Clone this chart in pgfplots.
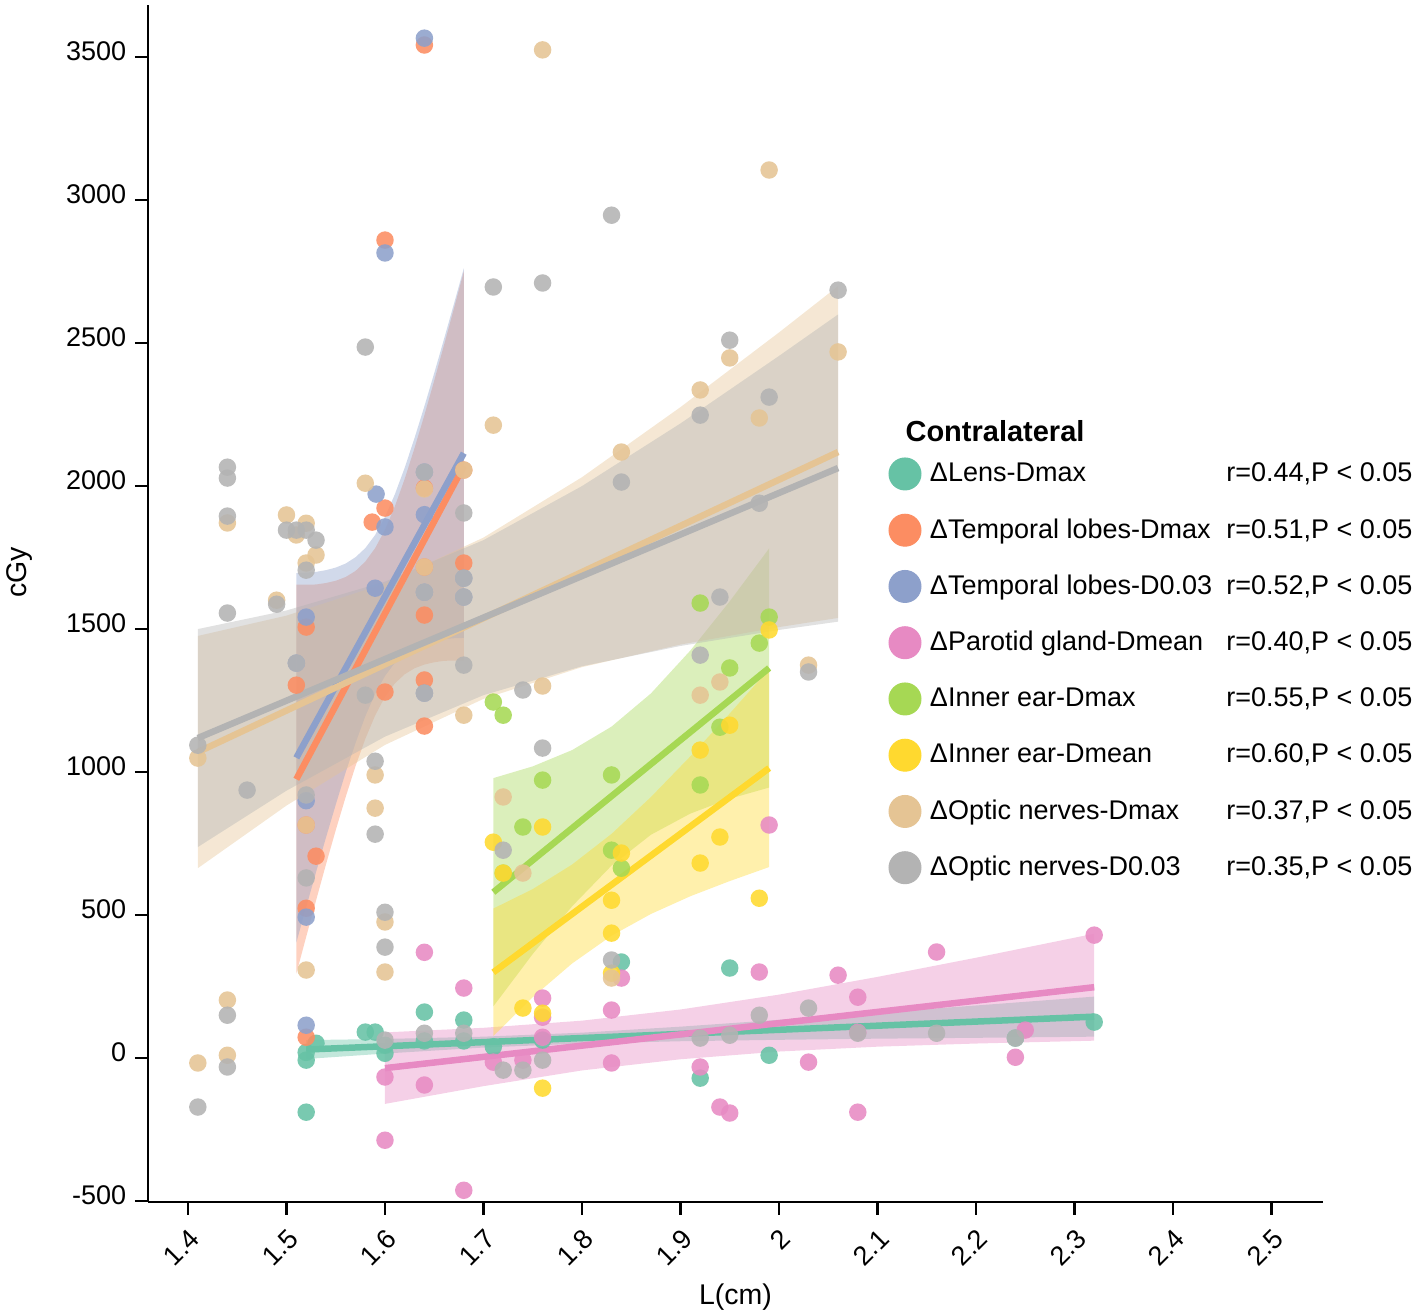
\documentclass[border=0pt]{standalone}
\usepackage{fontspec}
\setmainfont{Liberation Sans}
\usepackage{pgfplots}
\pgfplotsset{compat=1.18}
\definecolor{cLens}{RGB}{102,194,165}
\definecolor{cTmax}{RGB}{252,141,98}
\definecolor{cTd}{RGB}{141,160,203}
\definecolor{cPar}{RGB}{231,138,195}
\definecolor{cIEmax}{RGB}{166,216,84}
\definecolor{cIEmean}{RGB}{255,217,47}
\definecolor{cONmax}{RGB}{229,196,148}
\definecolor{cONd}{RGB}{179,179,179}
\pgfplotsset{
  pts/.style={only marks, mark=*, mark size=3.5pt, forget plot, color=#1,
    mark options={fill=#1, draw opacity=0, fill opacity=0.88}},
  band/.style={fill=#1, fill opacity=0.4, draw=none, forget plot},
  fit/.style={draw=#1, line width=2.6pt, forget plot, mark=none},
}
\begin{document}
\begin{tikzpicture}
\begin{axis}[
  scale only axis, width=470pt, height=478.8pt,
  xmin=1.3594, xmax=2.5523, ymin=-503, ymax=3682,
  axis x line*=bottom, axis y line*=left,
  axis line style={line width=1pt, black},
  xtick={1.4,1.5,1.6,1.7,1.8,1.9,2,2.1,2.2,2.3,2.4,2.5},
  ytick={-500,0,500,1000,1500,2000,2500,3000,3500},
  tick align=outside, major tick length=5.2pt,
  every tick/.style={black, line width=1pt},
  /pgf/number format/assume math mode=true,
  /pgf/number format/1000 sep={},
  ticklabel style={font=\fontsize{10.8}{12}\selectfont},
  xticklabel style={rotate=45, anchor=north east},
  yticklabel style={yshift=2.4pt},
  xlabel={L(cm)}, ylabel={cGy},
  label style={font=\fontsize{11.4}{13}\selectfont},
  xlabel style={at={(axis description cs:0.5,-0.0794)}, anchor=center},
  ylabel style={at={(axis description cs:-0.109,0.526)}, anchor=center},
  clip=false,
  legend style={at={(0.6302,0.622)}, anchor=north west, draw=none, fill=none,
    inner sep=0pt, outer sep=0pt, row sep=9.3pt,
    font=\fontsize{10.8}{13}\selectfont, nodes={inner sep=1pt}},
  legend cell align=left,
]
% ---------- scatter points ----------
\addplot[pts=cLens] coordinates {
(1.52,-7) (1.52,20) (1.53,52) (1.52,-189) (1.58,91) (1.59,91) (1.60,17) (1.60,45)
(1.64,161) (1.64,60) (1.68,133) (1.68,60) (1.71,40) (1.76,63) (1.84,336) (1.92,-70)
(1.95,315) (1.99,10) (2.24,70) (2.32,126)};
\addplot[pts=cTmax] coordinates {
(1.51,1304) (1.52,1507) (1.52,815) (1.52,524) (1.52,73) (1.53,706) (1.587,1874)
(1.60,2860) (1.60,1923) (1.60,1280) (1.64,3542) (1.64,1993) (1.64,1717) (1.64,1549)
(1.64,1322) (1.64,1161) (1.68,2056) (1.68,1731)};
\addplot[pts=cTd] coordinates {
(1.51,1381) (1.52,1542) (1.52,900) (1.52,493) (1.52,115) (1.591,1972) (1.60,2815)
(1.60,1857) (1.59,1643) (1.64,3566) (1.64,2049) (1.64,1900) (1.64,1629) (1.64,1276)
(1.68,1678) (1.68,1612)};
\addplot[pts=cPar] coordinates {
(1.60,-66) (1.60,-287) (1.64,370) (1.64,-94) (1.68,245) (1.68,-462) (1.71,-14)
(1.74,-7) (1.76,210) (1.76,143) (1.76,73) (1.83,168) (1.83,-17) (1.84,280) (1.92,-31)
(1.94,-171) (1.95,-192) (1.98,301) (1.99,815) (2.03,-14) (2.06,290) (2.08,213)
(2.08,-189) (2.08,90) (2.16,371) (2.24,3) (2.25,98) (2.32,430)};
\addplot[pts=cIEmax] coordinates {
(1.71,1245) (1.72,1199) (1.72,647) (1.74,808) (1.76,972) (1.83,990) (1.83,727)
(1.84,664) (1.92,955) (1.92,1591) (1.94,1157) (1.95,1364) (1.98,1451) (1.99,1542)};
\addplot[pts=cIEmean] coordinates {
(1.71,755) (1.72,647) (1.74,175) (1.76,808) (1.76,157) (1.76,-105) (1.83,552)
(1.83,437) (1.83,297) (1.84,717) (1.92,682) (1.92,1077) (1.94,773) (1.95,1164)
(1.98,559) (1.99,1497)};
\addplot[pts=cONmax] coordinates {
(1.41,1049) (1.41,-17) (1.44,1871) (1.44,203) (1.44,10) (1.49,1601) (1.50,1899)
(1.51,1829) (1.52,1870) (1.52,1731) (1.53,1759) (1.52,308) (1.52,815) (1.58,2010)
(1.59,990) (1.59,874) (1.60,476) (1.60,301) (1.64,1717) (1.64,1990) (1.68,2056)
(1.68,1199) (1.71,2213) (1.72,913) (1.74,647) (1.76,3525) (1.76,1301) (1.83,280)
(1.84,2119) (1.92,2336) (1.92,1269) (1.94,1315) (1.95,2448) (1.98,2238) (1.99,3105)
(2.03,1374) (2.06,2469)};
\addplot[pts=cONd] coordinates {
(1.41,1094) (1.41,-171) (1.44,2066) (1.44,2028) (1.44,1895) (1.44,1556) (1.44,150)
(1.44,-31) (1.46,937) (1.49,1587) (1.50,1846) (1.51,1846) (1.52,1846) (1.53,1811)
(1.52,1706) (1.51,1381) (1.52,920) (1.52,630) (1.58,2486) (1.58,1269) (1.59,1038)
(1.59,783) (1.60,510) (1.60,388) (1.60,63) (1.64,2049) (1.64,1629) (1.64,1276)
(1.64,87) (1.68,1906) (1.68,1612) (1.68,1678) (1.68,1374) (1.68,87) (1.71,2696)
(1.72,727) (1.72,-42) (1.74,1287) (1.74,-42) (1.76,2710) (1.76,1084) (1.76,-7)
(1.83,2947) (1.83,343) (1.84,2014) (1.92,2248) (1.92,1409) (1.92,70) (1.94,1612)
(1.95,2510) (1.95,80) (1.98,1940) (1.98,150) (1.99,2311) (2.03,1350) (2.03,175)
(2.06,2685) (2.08,87) (2.16,87) (2.24,70)};
% ---------- confidence bands ----------
\addplot[band=cLens] coordinates {
(1.52,63) (1.60,67) (1.70,75) (1.80,89) (1.90,110) (2.00,134) (2.10,159) (2.20,184) (2.32,215)
(2.32,75) (2.20,71) (2.10,68) (2.00,64) (1.90,59) (1.80,51) (1.70,37) (1.60,16) (1.52,-3)} -- cycle;
\addplot[band=cTmax] coordinates {
(1.51,1655) (1.52,1655) (1.53,1656) (1.54,1661) (1.55,1669) (1.56,1682) (1.57,1703) (1.58,1736) (1.59,1783)
(1.60,1847) (1.61,1929) (1.62,2025) (1.63,2133) (1.64,2248) (1.65,2369) (1.66,2494) (1.67,2621) (1.68,2750)
(1.68,1390) (1.67,1390) (1.66,1389) (1.65,1384) (1.64,1376) (1.63,1363) (1.62,1342) (1.61,1310) (1.60,1263)
(1.59,1198) (1.58,1116) (1.57,1020) (1.56,912) (1.55,797) (1.54,676) (1.53,551) (1.52,424) (1.51,295)} -- cycle;
\addplot[band=cTd] coordinates {
(1.51,1696) (1.52,1697) (1.53,1700) (1.54,1706) (1.55,1715) (1.56,1729) (1.57,1751) (1.58,1783) (1.59,1829)
(1.60,1892) (1.61,1971) (1.62,2064) (1.63,2168) (1.64,2279) (1.65,2395) (1.66,2515) (1.67,2637) (1.68,2761)
(1.68,1469) (1.67,1468) (1.66,1465) (1.65,1459) (1.64,1450) (1.63,1436) (1.62,1415) (1.61,1382) (1.60,1336)
(1.59,1274) (1.58,1195) (1.57,1101) (1.56,998) (1.55,886) (1.54,770) (1.53,650) (1.52,528) (1.51,404)} -- cycle;
\addplot[band=cPar] coordinates {
(1.60,90) (1.70,106) (1.80,131) (1.90,170) (2.00,222) (2.10,284) (2.20,351) (2.32,435)
(2.32,61) (2.20,51) (2.10,40) (2.00,23) (1.90,-4) (1.80,-43) (1.70,-98) (1.60,-160)} -- cycle;
\addplot[band=cIEmax] coordinates {
(1.71,979) (1.75,1020) (1.79,1077) (1.83,1159) (1.87,1275) (1.91,1425) (1.95,1597) (1.99,1782)
(1.99,946) (1.95,907) (1.91,855) (1.87,781) (1.83,673) (1.79,531) (1.75,364) (1.71,181)} -- cycle;
\addplot[band=cIEmean] coordinates {
(1.71,523) (1.75,591) (1.79,677) (1.83,784) (1.87,913) (1.91,1055) (1.95,1205) (1.99,1360)
(1.99,668) (1.95,619) (1.91,566) (1.87,504) (1.83,428) (1.79,331) (1.75,213) (1.71,77)} -- cycle;
\addplot[band=cONmax] coordinates {
(1.41,1476) (1.50,1547) (1.60,1659) (1.70,1820) (1.80,2031) (1.90,2276) (2.00,2537) (2.06,2699)
(2.06,1539) (2.00,1507) (1.90,1446) (1.80,1367) (1.70,1256) (1.60,1095) (1.50,883) (1.41,664)} -- cycle;
\addplot[band=cONd] coordinates {
(1.41,1500) (1.50,1565) (1.60,1666) (1.70,1811) (1.80,2000) (1.90,2219) (2.00,2455) (2.06,2600)
(2.06,1526) (2.00,1497) (1.90,1441) (1.80,1370) (1.70,1269) (1.60,1124) (1.50,935) (1.41,738)} -- cycle;
% ---------- regression lines ----------
\addplot[fit=cLens] coordinates {(1.52,30) (2.32,145)};
\addplot[fit=cTmax] coordinates {(1.51,975) (1.68,2070)};
\addplot[fit=cTd] coordinates {(1.51,1050) (1.68,2115)};
\addplot[fit=cPar] coordinates {(1.60,-35) (2.32,248)};
\addplot[fit=cIEmax] coordinates {(1.71,580) (1.99,1364)};
\addplot[fit=cIEmean] coordinates {(1.71,300) (1.99,1014)};
\addplot[fit=cONmax] coordinates {(1.41,1070) (2.06,2119)};
\addplot[fit=cONd] coordinates {(1.41,1119) (2.06,2063)};
% ---------- legend ----------
\addlegendimage{legend image code/.code={\fill[cLens] (0pt,0pt) circle (6.4pt);}}
\addlegendentry{\makebox[195.4pt]{\hspace{2.4pt}ΔLens-Dmax\hfill r=0.44,P < 0.05}}
\addlegendimage{legend image code/.code={\fill[cTmax] (0pt,0pt) circle (6.4pt);}}
\addlegendentry{\makebox[195.4pt]{\hspace{2.4pt}ΔTemporal lobes-Dmax\hfill r=0.51,P < 0.05}}
\addlegendimage{legend image code/.code={\fill[cTd] (0pt,0pt) circle (6.4pt);}}
\addlegendentry{\makebox[195.4pt]{\hspace{2.4pt}ΔTemporal lobes-D0.03\hfill r=0.52,P < 0.05}}
\addlegendimage{legend image code/.code={\fill[cPar] (0pt,0pt) circle (6.4pt);}}
\addlegendentry{\makebox[195.4pt]{\hspace{2.4pt}ΔParotid gland-Dmean\hfill r=0.40,P < 0.05}}
\addlegendimage{legend image code/.code={\fill[cIEmax] (0pt,0pt) circle (6.4pt);}}
\addlegendentry{\makebox[195.4pt]{\hspace{2.4pt}ΔInner ear-Dmax\hfill r=0.55,P < 0.05}}
\addlegendimage{legend image code/.code={\fill[cIEmean] (0pt,0pt) circle (6.4pt);}}
\addlegendentry{\makebox[195.4pt]{\hspace{2.4pt}ΔInner ear-Dmean\hfill r=0.60,P < 0.05}}
\addlegendimage{legend image code/.code={\fill[cONmax] (0pt,0pt) circle (6.4pt);}}
\addlegendentry{\makebox[195.4pt]{\hspace{2.4pt}ΔOptic nerves-Dmax\hfill r=0.37,P < 0.05}}
\addlegendimage{legend image code/.code={\fill[cONd] (0pt,0pt) circle (6.4pt);}}
\addlegendentry{\makebox[195.4pt]{\hspace{2.4pt}ΔOptic nerves-D0.03\hfill r=0.35,P < 0.05}}
\node[anchor=base west, inner sep=0pt, font=\bfseries\fontsize{11.6}{13}\selectfont]
  at (rel axis cs:0.6443,0.635) {Contralateral};
\end{axis}
\pgfresetboundingbox
\path (-59.2pt,-45.2pt) rectangle (507.6pt,480.8pt);
\end{tikzpicture}
\end{document}
